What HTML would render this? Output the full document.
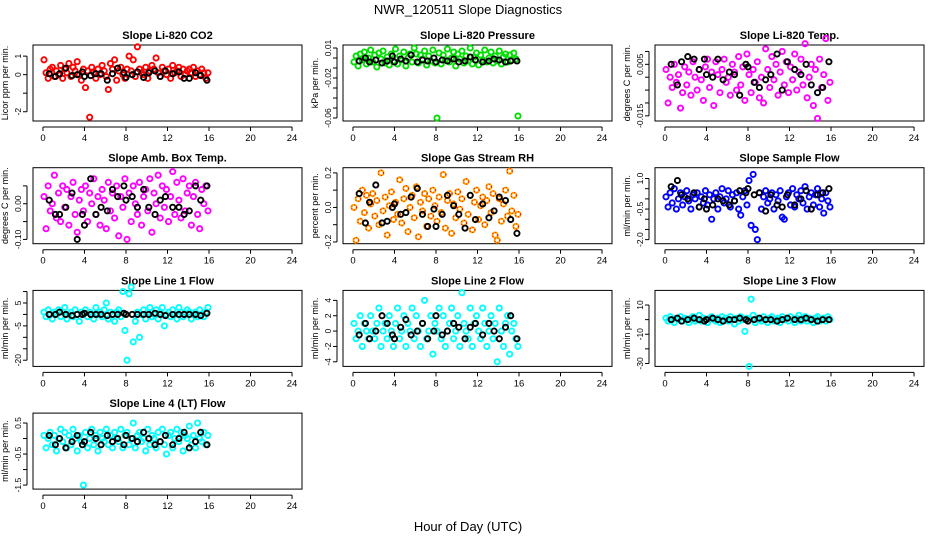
<!DOCTYPE html>
<html><head><meta charset="utf-8"><style>
html,body{margin:0;padding:0;background:#fff}
svg{display:block;font-family:"Liberation Sans",sans-serif}
</style></head><body>
<svg id="chart" width="936" height="540" viewBox="0 0 936 540" xmlns="http://www.w3.org/2000/svg">
<rect width="936" height="540" fill="#fff"/>
<text x="468" y="14" text-anchor="middle" font-size="13">NWR_120511  Slope Diagnostics</text>
<text x="468" y="531" text-anchor="middle" font-size="13">Hour of Day (UTC)</text>
</svg>
<script>
const hoursC=[0.1,0.3,0.5,0.7,0.9,1.1,1.3,1.5,1.7,1.9,2.1,2.3,2.5,2.7,2.9,3.1,3.3,3.5,3.7,3.9,4.1,4.3,4.5,4.7,4.9,5.1,5.3,5.5,5.7,5.9,6.1,6.3,6.5,6.7,6.9,7.1,7.3,7.5,7.7,7.9,8.1,8.3,8.5,8.7,8.9,9.1,9.3,9.5,9.7,9.9,10.1,10.3,10.5,10.7,10.9,11.1,11.3,11.5,11.7,11.9,12.1,12.3,12.5,12.7,12.9,13.1,13.3,13.5,13.7,13.9,14.1,14.3,14.5,14.7,14.9,15.1,15.3,15.5,15.7,15.9];
const hoursK=[0.6,1.2,1.6,2.2,2.8,3.3,3.8,4.0,4.6,5.1,5.6,6.2,6.7,7.2,7.8,8.0,8.6,9.1,9.7,10.2,10.8,11.3,11.8,12.5,13.1,13.6,14.1,14.7,15.2,15.8];
const xTicks=[0,4,8,12,16,20,24];
const titles=["Slope Li-820 CO2","Slope Li-820 Pressure","Slope Li-820 Temp.","Slope Amb. Box Temp.","Slope Gas Stream RH","Slope Sample Flow","Slope Line 1 Flow","Slope Line 2 Flow","Slope Line 3 Flow","Slope Line 4 (LT) Flow"];
const yLabels=["Licor ppm per min.","kPa per min.","degrees C per min.","degrees C per min.","percent per min.","ml/min per min.","ml/min per min.","ml/min per min.","ml/min per min.","ml/min per min."];
const yRanges=[[-2.5,1.6],[-0.063,0.013],[-0.017,0.0125],[-0.112,0.101],[-0.21,0.23],[-2.2,1.53],[-22.7,10.5],[-4.6,5.3],[-32,20],[-1.63,0.82]];
const yTicks=[[-2,-1,0,1],[-0.06,-0.05,-0.04,-0.03,-0.02,-0.01,0,0.01],[-0.015,-0.01,-0.005,0,0.005,0.01],[-0.1,-0.05,0,0.05],[-0.2,-0.1,0,0.1,0.2],[-2,-1.5,-1,-0.5,0,0.5,1],[-20,-15,-10,-5,0,5,10],[-4,-2,0,2,4],[-30,-20,-10,0,10],[-1.5,-1,-0.5,0,0.5]];
const yTickLabels=[["-2","","0","1"],["-0.06","","","","-0.02","","","0.01"],["-0.015","","","","0.005",""],["-0.10","","0.00",""],["-0.2","","0.0","","0.2"],["-2.0","","","-0.5","","","1.0"],["-20","","","-5","","5",""],["-4","-2","0","2","4"],["-30","","-10","","10"],["-1.5","","-0.5","","0.5"]];
const colors=["#ff0000","#00dd00","#ff00ff","#ff00ff","#ffa500","#0000ff","#00ffff","#00ffff","#00ffff","#00ffff"];
const v1=[0.8,0.1,-0.2,0.3,0.4,-0.1,0.2,0.0,0.5,-0.2,0.3,0.1,0.6,-0.1,0.4,0.2,0.7,0.0,-0.3,0.3,-0.7,0.2,-2.3,0.4,0.1,-0.2,0.3,0.0,0.5,0.2,-0.1,-0.8,0.6,0.3,0.8,-0.3,0.2,0.4,0.0,-0.2,0.3,1.0,0.2,0.8,-0.1,1.5,0.3,0.1,0.0,0.4,-0.2,0.2,0.5,0.3,0.9,0.1,-0.1,0.4,0.2,0.0,0.3,-0.2,0.5,0.1,0.2,0.4,-0.1,0.3,0.0,0.2,0.3,0.1,0.4,-0.1,0.2,0.0,0.3,0.1,-0.2,0.1];
const k1=[0.05,-0.1,0.05,0.35,-0.05,0.0,0.15,-0.1,-0.05,0.05,0.05,-0.3,0.05,0.35,0.1,-0.15,0.0,0.15,-0.15,0.1,0.2,-0.1,0.2,0.05,0.15,-0.2,-0.2,0.1,-0.05,-0.3];
const v2=[-0.004,0.002,-0.008,0.004,-0.002,0.006,-0.006,0.000,0.008,-0.004,0.003,-0.009,0.005,-0.001,0.007,-0.005,0.001,-0.007,0.004,-0.003,0.009,-0.006,0.002,-0.002,0.006,-0.008,0.000,0.004,-0.004,0.010,0.004,-0.005,0.003,-0.001,0.007,-0.007,0.002,-0.003,0.008,-0.005,-0.060,0.005,-0.006,0.003,-0.002,0.009,-0.004,0.000,0.006,-0.008,0.004,-0.001,0.007,-0.005,0.002,-0.003,0.010,-0.006,0.001,0.005,-0.007,0.003,-0.002,0.008,-0.004,0.000,0.006,-0.005,0.002,-0.003,0.007,-0.006,0.001,0.004,-0.004,0.003,-0.002,0.005,-0.001,-0.058];
const k2=[-0.003,0.000,-0.004,-0.002,-0.005,-0.003,0.002,-0.004,-0.001,-0.003,0.003,-0.004,-0.002,-0.003,0.000,-0.004,-0.002,-0.003,-0.001,-0.004,-0.003,0.001,-0.002,-0.004,-0.003,-0.001,-0.002,-0.004,-0.003,-0.003];
const v3=[0.003,-0.010,0.000,-0.004,0.005,-0.002,0.001,-0.012,-0.006,0.004,-0.003,0.002,-0.007,0.006,0.000,-0.005,0.003,-0.001,-0.009,0.004,0.007,-0.004,0.002,-0.011,0.006,0.001,-0.006,0.003,0.007,-0.002,0.000,-0.007,0.005,0.002,-0.005,0.008,-0.003,0.004,-0.009,0.009,0.001,-0.006,0.003,-0.002,0.006,-0.008,0.000,-0.010,0.011,0.003,-0.004,0.008,-0.001,0.005,-0.007,0.002,0.010,-0.003,0.006,-0.006,0.004,-0.001,0.009,-0.005,0.002,0.007,-0.003,0.013,-0.008,0.000,0.005,-0.011,0.003,-0.016,0.007,-0.004,0.001,0.015,-0.009,-0.002];
const k3=[0.005,-0.003,0.006,0.008,0.007,0.003,0.007,0.001,0.000,0.007,-0.001,0.002,0.001,-0.007,0.005,0.004,-0.002,-0.004,-0.001,0.001,0.009,-0.005,0.006,0.003,0.001,0.005,-0.003,-0.006,-0.004,0.006];
const v4=[0.02,-0.07,0.05,-0.02,0.00,0.08,-0.04,0.03,-0.05,0.05,-0.01,0.04,-0.06,0.02,0.06,-0.03,-0.08,0.01,0.04,-0.02,0.05,-0.05,0.03,0.00,0.07,-0.03,0.02,-0.06,0.04,0.01,-0.07,0.06,-0.02,0.03,-0.04,0.05,-0.09,0.02,-0.01,0.07,-0.10,0.03,-0.05,0.05,0.00,-0.03,0.06,-0.06,0.02,0.04,-0.02,0.07,-0.08,0.03,0.00,0.08,-0.04,0.05,-0.01,0.04,-0.05,0.02,0.09,-0.03,0.06,0.01,-0.04,0.07,-0.02,0.03,0.05,-0.06,0.02,0.06,-0.03,-0.07,0.04,0.00,0.05,-0.02];
const k4=[0.01,-0.03,-0.03,-0.01,0.03,-0.10,-0.03,-0.06,0.07,-0.03,-0.01,-0.02,0.04,0.02,0.05,0.01,0.02,-0.01,0.04,-0.01,-0.03,0.01,0.02,-0.01,-0.01,-0.03,-0.02,0.05,0.01,0.05];
const v5=[0.00,-0.19,0.05,-0.08,0.10,-0.03,0.07,-0.12,0.02,0.08,-0.05,0.04,-0.10,0.20,-0.02,0.06,-0.16,0.01,0.09,-0.07,0.03,-0.04,0.16,-0.09,0.05,0.11,-0.14,0.00,0.07,-0.06,0.12,-0.17,0.03,-0.02,0.08,-0.11,0.05,-0.05,0.10,0.01,-0.08,0.06,-0.03,0.19,-0.12,0.04,0.08,-0.15,0.02,-0.06,0.09,-0.01,0.05,-0.09,0.15,-0.04,0.07,-0.13,0.03,0.10,-0.07,0.01,0.06,-0.10,0.04,0.12,-0.03,0.08,-0.16,-0.19,0.05,-0.08,0.02,0.10,-0.05,0.21,-0.02,0.07,-0.11,-0.04];
const k5=[0.08,-0.09,0.03,0.13,-0.09,-0.08,0.00,0.02,-0.04,-0.03,0.06,0.11,-0.04,-0.11,-0.01,-0.11,-0.04,0.07,0.01,-0.04,-0.12,0.07,-0.07,0.02,-0.06,-0.02,0.06,0.04,-0.07,-0.15];
const v6=[0.1,-0.4,0.3,-0.2,0.5,-0.5,0.0,0.3,-0.3,0.1,0.4,-0.1,-0.5,0.2,0.0,0.3,-0.4,0.1,-0.2,0.4,-0.3,0.2,-1.0,0.0,0.3,-0.5,0.1,0.5,-0.2,0.0,0.4,-0.4,0.2,-0.1,0.3,-0.5,-0.8,0.1,0.4,-0.3,0.9,-1.3,1.2,-1.5,-2.0,0.3,-0.5,0.1,0.4,-0.2,0.0,0.3,-0.5,0.2,-0.1,0.4,-0.9,-1.0,0.1,0.3,-0.3,0.5,-0.4,0.2,0.0,0.4,-0.2,0.6,-0.5,0.1,0.3,-0.3,0.2,0.5,-0.4,0.0,-0.7,0.3,-0.1,-0.4];
const k6=[0.6,0.9,0.2,0.0,0.3,-0.4,0.0,-0.5,-0.3,0.0,-0.1,-0.3,-0.1,0.4,0.3,0.5,0.2,0.3,-0.6,0.2,-0.3,-0.4,0.2,-0.3,0.0,0.4,-0.5,0.2,0.3,0.5];
const v7=[1,-1,2,0,-2,1,0,2,-1,1,3,-2,0,1,-1,2,0,-3,1,0,2,-1,1,0,-2,3,0,1,-1,2,5,-2,1,0,-3,1,2,-1,10,-7,-20,9,12,-12,-3,1,-10,0,2,-2,1,3,-1,0,2,-2,1,3,-5,0,1,-1,2,0,-2,3,1,-1,0,2,1,-2,0,1,-1,2,0,-1,1,3];
const k7=[0,0,1,0,-0.5,0,0,0.5,0,0,0,-0.5,0,0,0.5,0,0,0,0,0,0.5,0,-0.5,0,0,0,0,0,-0.5,0.5];
const v8=[1,-1,0,2,-2,1,0,-1,2,0,-1,1,3,-2,0,1,-1,2,0,-2,1,3,-1,0,2,-2,1,0,3,-1,2,0,-2,1,4,-1,0,2,-3,1,0,3,-1,2,-2,0,1,3,-1,0,2,-2,5,1,0,-1,3,-2,1,2,0,-1,3,1,-2,0,2,-1,1,-4,3,0,-2,1,2,-3,0,1,-1,-2];
const k8=[-0.5,1,-1,0,2,1,-0.5,-1,0.5,1.5,-0.5,0,1,-1,0,2,-0.5,0,1,0.5,-1,0.5,1,-0.5,1,0,-1,0.5,2,-1];
const v9=[1,-1,2,0,-2,1,0,2,-1,1,0,-2,1,2,-1,0,3,-1,1,0,-2,1,2,0,-1,1,-2,2,0,1,-1,2,0,-3,1,-1,2,0,-8,1,-32,14,3,-2,1,0,-1,2,0,-2,1,2,-1,0,1,-2,2,0,1,-1,2,0,-2,1,3,-1,0,2,-1,1,0,-2,1,2,-1,0,1,-1,2,0];
const k9=[0,1,-1,0,1,0,-1,0,1,0,-1,0,0,1,0,-1,0,1,0,0,-1,0,1,0,0,1,0,-1,0,0];
const v10=[0.1,-0.3,0.0,0.2,-0.2,0.1,-0.4,0.0,0.3,-0.1,0.2,-0.3,0.1,-0.2,0.3,0.0,-0.4,0.1,-0.1,-1.5,0.2,-0.3,0.0,0.3,-0.2,0.1,-0.4,0.2,0.0,-0.1,0.3,-0.2,0.1,-0.3,0.2,0.0,-0.1,0.3,-0.3,0.1,0.2,-0.2,0.0,0.5,-0.3,0.1,0.2,-0.1,0.0,-0.4,0.3,-0.2,0.1,0.0,-0.3,0.2,-0.1,0.3,-0.2,-0.5,0.1,0.2,-0.3,0.0,0.3,-0.1,0.2,-0.4,0.1,0.0,0.4,-0.2,0.1,-0.3,0.5,0.0,-0.1,0.2,-0.2,0.1];
const k10=[0.1,-0.2,0.0,-0.3,-0.1,0.1,-0.2,-0.1,0.2,0.0,-0.2,0.1,-0.1,0.0,-0.2,0.1,0.0,-0.1,0.2,0.0,-0.2,-0.1,0.1,-0.2,0.0,0.2,-0.3,-0.1,0.2,-0.2];
const colSeries=[v1,v2,v3,v4,v5,v6,v7,v8,v9,v10];
const blkSeries=[k1,k2,k3,k4,k5,k6,k7,k8,k9,k10];

const NS="http://www.w3.org/2000/svg";
const svg=document.getElementById('chart');
const colLeft=[33,343,655], boxW=269, boxH=76, rowTop=45, rowStep=122.7;
const XMIN=-0.96, XMAX=24.96;
function mk(tag,attrs,parent){const e=document.createElementNS(NS,tag);for(const k in attrs)e.setAttribute(k,attrs[k]);(parent||svg).appendChild(e);return e;}

titles.forEach((t,p)=>{
  const c=p%3,r=Math.floor(p/3);
  const L=colLeft[c],T=rowTop+rowStep*r,B=T+boxH;
  const [ymin,ymax]=yRanges[p];
  const xs=h=>L+(h-XMIN)/(XMAX-XMIN)*boxW;
  const ys=v=>B-(v-ymin)/(ymax-ymin)*boxH;
  const g=mk('g',{});
  
  
  const box=mk('rect',{x:L,y:T,width:boxW,height:boxH,fill:'none',stroke:'#000','stroke-width':1},g);
  
  
  const tt=mk('text',{x:L+boxW/2,y:T-6,'text-anchor':'middle','font-size':11,'font-weight':'bold'},g);
  tt.textContent=t;
  
  
  const yl=mk('text',{transform:`translate(${L-25},${T+boxH/2}) rotate(-90)`,'text-anchor':'middle','font-size':9},g);
  yl.textContent=yLabels[p];
  
  
  const x0=xs(xTicks[0]),x1=xs(xTicks[xTicks.length-1]);
  mk('line',{x1:x0,y1:B+6,x2:x1,y2:B+6,stroke:'#000'},g);
  xTicks.forEach(tk=>{
    const x=xs(tk);
    mk('line',{x1:x,y1:B+6,x2:x,y2:B+10,stroke:'#000'},g);
    const tl=mk('text',{x:x,y:B+20,'text-anchor':'middle','font-size':9.5},g);
    tl.textContent=tk;
    
    
  });
  const yt=yTicks[p];
  mk('line',{x1:L-6,y1:ys(yt[0]),x2:L-6,y2:ys(yt[yt.length-1]),stroke:'#000'},g);
  yt.forEach((tk,i)=>{
    const y=ys(tk);
    mk('line',{x1:L-10,y1:y,x2:L-6,y2:y,stroke:'#000'},g);
    const lab=yTickLabels[p][i];
    if(lab){
      const tl=mk('text',{transform:`translate(${L-12},${y}) rotate(-90)`,'text-anchor':'middle','font-size':8.5},g);
      tl.textContent=lab;
      
      
    }
  });
  const vs=colSeries[p];
  const n=Math.min(hoursC.length,vs.length);
  for(let i=0;i<n;i++){
    const cx=xs(hoursC[i]),cy=ys(vs[i]);
    const pt=mk('circle',{cx:cx,cy:cy,r:2.6,fill:'none',stroke:colors[p],'stroke-width':1.9},g);
    
    
    if(p===4){mk('circle',{cx:cx,cy:cy,r:2.6,fill:'none',stroke:'#ff0000','stroke-width':1,'stroke-dasharray':'1 2'},g);}
  }
  const ks=blkSeries[p];
  const m=Math.min(hoursK.length,ks.length);
  for(let i=0;i<m;i++){
    const pt=mk('circle',{cx:xs(hoursK[i]),cy:ys(ks[i]),r:2.6,fill:'none',stroke:'#000','stroke-width':1.9},g);
    
    
  }
});
</script>
</body></html>
